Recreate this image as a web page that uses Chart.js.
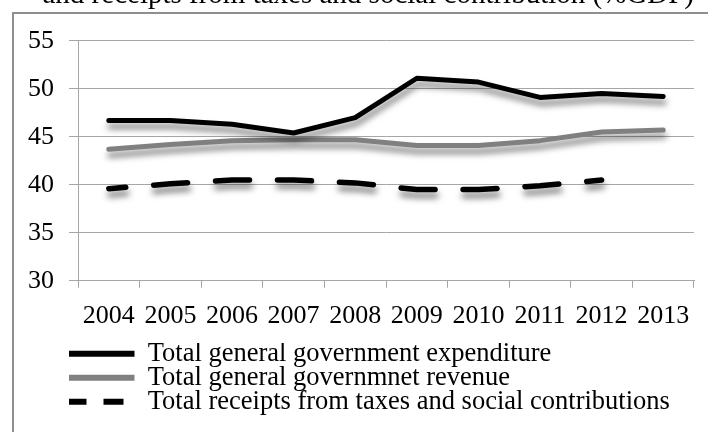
<!DOCTYPE html>
<html>
<head>
<meta charset="utf-8">
<script src="https://cdn.jsdelivr.net/npm/chart.js@4/dist/chart.umd.min.js"></script>
<style>
  html, body { margin: 0; padding: 0; background: #fff; overflow: hidden; }
  #wrap { position: relative; width: 708px; height: 432px; overflow: hidden; }
  #frame {
    position: absolute; left: 12px; top: 12px; width: 720px; height: 440px;
    border-top: 2px solid #8f8f8f; border-left: 2px solid #8f8f8f;
    box-sizing: border-box; pointer-events: none;
  }
  #c { position: absolute; left: 0; top: -22px; }
</style>
</head>
<body>
<div id="wrap">
  <div id="frame"></div>
  <canvas id="c" width="708" height="454"></canvas>
</div>
<script>
// Years on the x axis
const years = ['2004', '2005', '2006', '2007', '2008', '2009', '2010', '2011', '2012', '2013'];

// Values in % of GDP
const expenditure = [46.7, 46.7, 46.3, 45.4, 47.0, 51.1, 50.7, 49.1, 49.5, 49.2];
const revenue     = [43.7, 44.2, 44.6, 44.7, 44.7, 44.1, 44.1, 44.6, 45.5, 45.7];
const taxReceipts = [39.6, 40.1, 40.5, 40.5, 40.2, 39.5, 39.5, 39.9, 40.5, null];

// Series names
const seriesNames = [
  'Total general government expenditure',
  'Total general governmnet revenue',
  'Total receipts from taxes and social contributions'
];

const titleText = 'and receipts from taxes and social contribution (%GDP)';

const serif = '"Liberation Serif", "Times New Roman", serif';
Chart.defaults.font.family = serif;
Chart.defaults.color = '#000';

// Soft drop shadow under each plotted line
const lineShadow = {
  id: 'lineShadow',
  beforeDatasetDraw(chart) {
    const ctx = chart.ctx;
    ctx.save();
    ctx.shadowColor = 'rgba(0,0,0,0.5)';
    ctx.shadowBlur = 6;
    ctx.shadowOffsetX = 1;
    ctx.shadowOffsetY = 6;
  },
  afterDatasetDraw(chart) {
    chart.ctx.restore();
  }
};

// Legend sits indented under the plot
const legendPlacement = {
  id: 'legendPlacement',
  afterLayout(chart) {
    chart.legend.left += 56;
    chart.legend.top -= 2;
  }
};

const gridColor = '#a6a6a6';

new Chart(document.getElementById('c'), {
  type: 'line',
  data: {
    labels: years,
    datasets: [
      {
        label: seriesNames[0],
        data: expenditure,
        borderColor: '#000',
        backgroundColor: '#000',
        borderWidth: 5,
        borderCapStyle: 'round',
        borderJoinStyle: 'round'
      },
      {
        label: seriesNames[1],
        data: revenue,
        borderColor: '#808080',
        backgroundColor: '#808080',
        borderWidth: 5,
        borderCapStyle: 'round',
        borderJoinStyle: 'round'
      },
      {
        label: seriesNames[2],
        data: taxReceipts,
        borderColor: '#000',
        backgroundColor: '#000',
        borderWidth: 5.5,
        borderCapStyle: 'round',
        borderJoinStyle: 'round',
        borderDash: [34, 28],
        borderDashOffset: 17
      }
    ]
  },
  options: {
    responsive: false,
    animation: false,
    devicePixelRatio: 1,
    layout: { padding: { top: 0, left: 13, right: 14, bottom: 5 } },
    elements: {
      point: { radius: 0, hoverRadius: 0 },
      line: { tension: 0, fill: false }
    },
    scales: {
      x: {
        offset: true,
        grid: {
          offset: true,
          drawOnChartArea: false,
          drawTicks: true,
          tickLength: 7,
          color: gridColor,
          lineWidth: 1
        },
        border: { display: true, color: gridColor, width: 1 },
        ticks: {
          font: { size: 26, family: serif },
          color: '#000',
          padding: 13,
          maxRotation: 0,
          autoSkip: false
        }
      },
      y: {
        min: 30,
        max: 55,
        grid: {
          color: gridColor,
          lineWidth: 1,
          tickLength: 9
        },
        border: { display: true, color: gridColor, width: 1 },
        ticks: {
          stepSize: 5,
          font: { size: 26, family: serif },
          color: '#000',
          padding: 15
        }
      }
    },
    plugins: {
      title: {
        display: true,
        text: titleText,
        align: 'end',
        color: '#000',
        font: { size: 29, weight: 'normal', family: serif },
        padding: { top: 0, bottom: 28 }
      },
      legend: {
        display: true,
        position: 'bottom',
        align: 'start',
        labels: {
          usePointStyle: true,
          pointStyle: 'line',
          pointStyleWidth: 68,
          padding: -2.5,
          color: '#000',
          font: { size: 26.5, family: serif },
          generateLabels(chart) {
            const items = Chart.defaults.plugins.legend.labels.generateLabels(chart);
            items.forEach(it => {
              it.lineWidth = 6;
              it.lineCap = 'butt';
              if (it.datasetIndex === 2) {
                it.lineDash = [20, 17];
                it.lineDashOffset = 0;
              }
            });
            return items;
          }
        }
      },
      tooltip: { enabled: false }
    }
  },
  plugins: [lineShadow, legendPlacement]
});
</script>
</body>
</html>
